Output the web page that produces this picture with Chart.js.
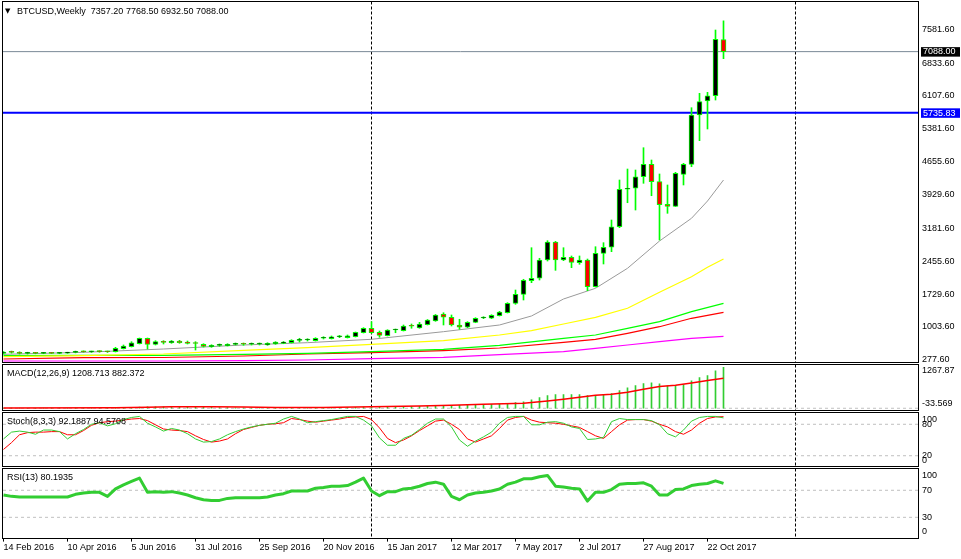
<!DOCTYPE html>
<html>
<head>
<meta charset="utf-8">
<script src="https://cdn.jsdelivr.net/npm/chart.js@4.4.1/dist/chart.umd.min.js"></script>
<style>
  html, body { margin: 0; padding: 0; background: #fff; }
  #wrap { position: relative; width: 961px; height: 559px; overflow: hidden; }
  canvas { position: absolute; left: 0; }
</style>
</head>
<body>
<div id="wrap">
  <canvas id="mainChart" width="961" height="364" style="top:0px"></canvas>
  <canvas id="macdChart" width="961" height="47" style="top:364px"></canvas>
  <canvas id="stochChart" width="961" height="56" style="top:411px"></canvas>
  <canvas id="rsiChart" width="961" height="92" style="top:467px"></canvas>
</div>
<script>
// weekly bars, index 0 = week of 14 Feb 2016
const tickBars = [0, 8, 16, 24, 32, 40, 48, 56, 64, 72, 80, 88];
const tickLabels = ['14 Feb 2016', '10 Apr 2016', '5 Jun 2016', '31 Jul 2016', '25 Sep 2016', '20 Nov 2016',
                    '15 Jan 2017', '12 Mar 2017', '7 May 2017', '2 Jul 2017', '27 Aug 2017', '22 Oct 2017'];
const separatorBars = [46, 99];
const priceTicks = [7581.6, 6833.6, 6107.6, 5381.6, 4655.6, 3929.6, 3181.6, 2455.6, 1729.6, 1003.6, 277.6];
const bidPrice = 7088.00;
const supportLevel = 5735.83;

const open = [
  418, 448, 440, 418, 430, 418, 428, 420, 426, 440,
  460, 455, 462, 458, 457, 523, 567, 633, 753, 620,
  671, 655, 693, 671, 649, 620, 567, 598, 589, 620,
  627, 622, 627, 605, 627, 642, 655, 708, 715, 700,
  753, 744, 788, 766, 788, 876, 974, 885, 810, 936,
  921, 1025, 980, 1053, 1135, 1290, 1217, 1047, 996, 1106,
  1201, 1195, 1252, 1318, 1526, 1725, 2026, 2079, 2483, 2881,
  2483, 2543, 2423, 2483, 1893, 2631, 2764, 3219, 4046, 4068,
  4324, 4598, 4214, 3714, 3670, 4377, 4598, 5688, 5997, 6114,
  7357.2
];
const high = [
  460, 470, 455, 445, 440, 440, 440, 435, 445, 470,
  475, 470, 478, 470, 554, 605, 678, 759, 759, 700,
  700, 704, 708, 693, 678, 633, 611, 627, 633, 649,
  649, 649, 649, 655, 678, 682, 722, 753, 744, 766,
  788, 804, 819, 826, 892, 987, 1120, 914, 943, 958,
  1047, 1069, 1106, 1168, 1279, 1318, 1268, 1173, 1120, 1208,
  1230, 1274, 1349, 1540, 1820, 2057, 2755, 2521, 2910, 2895,
  2755, 2572, 2572, 2505, 2777, 2866, 3367, 4251, 4494, 4472,
  4965, 4693, 4384, 4141, 4421, 4620, 5849, 6167, 6189, 7566,
  7768.5
];
const low = [
  402, 425, 405, 405, 410, 412, 415, 412, 420, 430,
  445, 440, 445, 440, 450, 516, 560, 627, 516, 605,
  627, 642, 642, 627, 494, 560, 554, 576, 583, 605,
  598, 605, 605, 598, 620, 633, 649, 671, 693, 693,
  737, 737, 766, 759, 782, 870, 863, 775, 804, 876,
  914, 974, 974, 1047, 1128, 1047, 1025, 952, 987, 1097,
  1186, 1186, 1246, 1312, 1504, 1599, 1982, 2041, 2461, 2255,
  2468, 2313, 2388, 1805, 1886, 2395, 2667, 3197, 3749, 3588,
  4178, 3904, 2925, 3515, 3665, 4141, 4545, 5120, 5378, 6019,
  6932.5
];
const close = [
  448, 440, 418, 430, 418, 428, 420, 426, 440, 460,
  455, 462, 458, 455, 532, 583, 655, 753, 620, 678,
  664, 693, 655, 642, 638, 576, 598, 605, 620, 627,
  622, 627, 631, 642, 671, 671, 708, 715, 720, 753,
  766, 788, 793, 810, 885, 974, 876, 819, 936, 941,
  1025, 1020, 1069, 1157, 1268, 1217, 1047, 996, 1106, 1195,
  1212, 1261, 1334, 1526, 1725, 2035, 2079, 2483, 2881, 2483,
  2543, 2432, 2483, 1893, 2631, 2764, 3219, 4046, 4059, 4324,
  4598, 4214, 3705, 3670, 4399, 4598, 5688, 5982, 6114, 7361,
  7088.0
];

// moving averages at these bars
const maBarsA = [0, 10, 20, 30, 38, 46, 55, 62, 66, 70, 74, 78, 82, 86, 88, 90];
const maGray = [399, 443, 516, 605, 656, 731, 899, 1047, 1246, 1621, 1858, 2300, 2903, 3405, 3787, 4251];
const maYellow = [346, 368, 406, 488, 545, 620, 700, 826, 921, 1069, 1217, 1416, 1769, 2114, 2322, 2505];
const maBarsB = [0, 10, 20, 30, 38, 46, 55, 62, 70, 74, 78, 82, 86, 90];
const maGreen = [368, 377, 377, 399, 421, 457, 510, 598, 753, 826, 974, 1120, 1341, 1526];
const maRed = [295, 324, 328, 362, 406, 435, 479, 538, 664, 731, 863, 1009, 1195, 1327];
const maMagenta = [251, 251, 251, 258, 273, 302, 333, 390, 457, 532, 605, 678, 753, 797];

const macdHist = [
  2, 3, 2, 1, 1, 2, 2, 3, 4, 5,
  6, 7, 7, 6, 10, 15, 22, 38, 40, 42,
  44, 45, 44, 42, 38, 32, 27, 22, 18, 15,
  13, 12, 11, 11, 12, 13, 15, 17, 19, 22,
  24, 26, 28, 30, 25, 32, 38, 38, 40, 42,
  46, 50, 56, 64, 74, 84, 88, 90, 96, 108,
  118, 118, 118, 147, 167, 187, 246, 315, 374, 403,
  403, 403, 403, 374, 383, 403, 433, 521, 600, 669,
  728, 747, 718, 659, 669, 698, 806, 905, 964, 1101,
  1208.713
];
const macdSignalBars = [0, 14, 18, 21, 26, 30, 34, 40, 44, 48, 52, 56, 60, 65, 68, 70, 72, 74, 76, 78, 80, 82, 84, 86, 88, 90];
const macdSignal = [10, 12, 30, 45, 48, 38, 25, 22, 35, 50, 65, 90, 120, 147, 216, 265, 324, 383, 413, 472, 560, 639, 678, 747, 816, 882.372];

const stochMain = [
  52, 65, 67, 65, 61, 69, 69, 66, 52, 62,
  70, 80, 83, 77, 81, 89, 93, 95, 82, 75,
  67, 72, 69, 62, 52, 46, 47, 52, 60, 66,
  71, 75, 78, 80, 82, 90, 95, 90, 83, 85,
  87, 89, 92, 95, 95, 88, 77, 54, 40, 40,
  53, 59, 70, 82, 90, 90, 75, 50, 38, 48,
  56, 65, 82, 93, 95, 95, 79, 79, 84, 85,
  82, 75, 72, 51, 52, 55, 85, 91, 89, 89,
  89, 87, 79, 62, 56, 69, 86, 93, 95, 95,
  92.1887
];
const stochSignal = [
  32, 45, 60, 64, 65, 65, 66, 66, 60, 60,
  68, 78, 83, 85, 86, 88, 90, 91, 87, 79,
  71, 69, 68, 66, 58, 51, 46, 48, 52, 62,
  70, 74, 78, 80, 81, 83, 91, 89, 86, 84,
  86, 88, 90, 93, 94, 95, 89, 73, 53, 45,
  50, 58, 68, 77, 86, 88, 80, 70, 52, 46,
  52, 58, 72, 88, 93, 95, 88, 84, 83, 82,
  80, 77, 74, 66, 58, 53, 66, 79, 88, 89,
  89, 86, 80, 75, 66, 61, 69, 82, 91, 94,
  94.5708
];
const rsi = [
  63, 61, 60, 60, 60, 60, 60, 60, 60, 64,
  66, 67, 67, 61, 72, 78, 83, 88, 67, 68,
  67, 68, 66, 63, 59, 56, 55, 55, 58, 59,
  59, 59, 59, 60, 63, 65, 69, 69, 69, 73,
  74, 76, 76, 77, 82, 88, 69, 62, 68, 68,
  72, 73, 76, 80, 82, 79, 61, 56, 63, 66,
  67, 69, 72, 79, 82, 87, 87, 90, 92, 76,
  75, 73, 72, 54, 67, 67, 71, 79, 80, 80,
  81, 76, 63, 63, 71, 72, 77, 79, 80, 84,
  80.1935
];

// chart setup
const X_MIN = -0.0625;
const X_MAX = 114.3125;
const FONT = "9px 'Liberation Sans', 'DejaVu Sans', sans-serif";
const GREEN = '#32cd32';

Chart.defaults.font.family = "'Liberation Sans', 'DejaVu Sans', sans-serif";
Chart.defaults.font.size = 9;
Chart.defaults.color = '#000';

const pts = (xs, ys) => xs.map((x, i) => ({ x: x, y: ys[i] }));
const flat = v => [{ x: X_MIN, y: v }, { x: X_MAX, y: v }];
const bars = arr => arr.map((v, i) => ({ x: i, y: v }));

function lineSet(data, color, width, extra) {
  return Object.assign({
    type: 'line', data: data, borderColor: color, borderWidth: width,
    pointRadius: 0, tension: 0, fill: false, order: 2
  }, extra || {});
}

function levelSet(v) {
  return lineSet(flat(v), '#c0c0c0', 1, { borderDash: [3, 3], order: 5 });
}

const hiddenX = { type: 'linear', min: X_MIN, max: X_MAX, offset: false, display: false };

// frame, period separators, panel caption and side labels
const panelDecor = {
  id: 'panelDecor',
  beforeDatasetsDraw(chart, args, o) {
    const ctx = chart.ctx;
    const xs = chart.scales.x;
    ctx.save();
    ctx.strokeStyle = '#000';
    ctx.lineWidth = 1;
    ctx.setLineDash([3, 2]);
    separatorBars.forEach(b => {
      const px = xs.getPixelForValue(b);
      ctx.beginPath();
      ctx.moveTo(px, o.top);
      ctx.lineTo(px, o.bottom);
      ctx.stroke();
    });
    ctx.restore();
  },
  afterDraw(chart, args, o) {
    const ctx = chart.ctx;
    const area = chart.chartArea;
    const ys = chart.scales.y;
    ctx.save();
    ctx.strokeStyle = '#000';
    ctx.lineWidth = 1;
    ctx.strokeRect(2.5, o.top, 916, o.bottom - o.top);
    ctx.font = FONT;
    ctx.fillStyle = '#000';
    ctx.textBaseline = 'middle';
    if (o.title) ctx.fillText(o.title, 7, o.titleY);
    (o.side || []).forEach(s => {
      let py = ys.getPixelForValue(s.v);
      py = Math.min(Math.max(py, area.top + 5.5), area.bottom - 6);
      ctx.fillText(s.text, 922, py);
    });
    ctx.restore();
  }
};

const mainDecor = {
  id: 'mainDecor',
  afterDraw(chart) {
    const ctx = chart.ctx;
    const ys = chart.scales.y;
    ctx.save();
    ctx.textBaseline = 'middle';
    ctx.fillStyle = '#000';
    ctx.font = "7px 'DejaVu Sans', sans-serif";
    ctx.fillText('\u25BC', 5, 11.5);
    ctx.font = FONT;
    ctx.fillText('BTCUSD,Weekly  7357.20 7768.50 6932.50 7088.00', 17, 11.7);
    [[bidPrice, '#000000'], [supportLevel, '#0000ff']].forEach(([v, c]) => {
      const py = ys.getPixelForValue(v);
      ctx.fillStyle = c;
      ctx.fillRect(921, py - 4.5, 39, 9.5);
      ctx.fillStyle = '#fff';
      ctx.fillText(v.toFixed(2), 923, py + 0.3);
    });
    ctx.restore();
  }
};

const common = {
  responsive: false,
  devicePixelRatio: 1,
  animation: false,
  events: [],
  plugins: { legend: { display: false }, tooltip: { enabled: false } }
};

// main price panel
new Chart(document.getElementById('mainChart'), {
  type: 'bar',
  data: {
    datasets: [
      {
        data: close.map((c, i) => ({ x: i, y: [open[i], c] })),
        backgroundColor: close.map((c, i) => c >= open[i] ? '#000000' : '#ff0000'),
        borderColor: '#00ff00', borderWidth: 1, borderSkipped: false,
        barThickness: 5, maxBarThickness: 5, minBarLength: 1, grouped: false, order: 0
      },
      {
        data: close.map((c, i) => ({ x: i, y: [low[i], high[i]] })),
        backgroundColor: '#00ff00', borderWidth: 0,
        barThickness: 1, maxBarThickness: 1, grouped: false, order: 1
      },
      lineSet(pts(maBarsA, maGray), '#9a9a9a', 1),
      lineSet(pts(maBarsA, maYellow), '#ffff00', 1.2),
      lineSet(pts(maBarsB, maGreen), '#00ff00', 1.2),
      lineSet(pts(maBarsB, maRed), '#ff0000', 1.2),
      lineSet(pts(maBarsB, maMagenta), '#ff00ff', 1.2),
      lineSet(flat(bidPrice), '#7a8896', 1, { order: 4 }),
      lineSet(flat(supportLevel), '#0000ff', 2, { order: 4 })
    ]
  },
  options: Object.assign({}, common, {
    layout: { padding: { left: 3, right: 0, top: 2, bottom: 2 } },
    scales: {
      x: hiddenX,
      y: {
        position: 'right', min: 229, max: 8185,
        grid: { display: false, drawTicks: false },
        border: { display: false },
        afterBuildTicks: s => { s.ticks = priceTicks.map(v => ({ value: v })); },
        afterFit: s => { s.width = 43; s.paddingTop = 0; s.paddingBottom = 0; },
        ticks: { autoSkip: false, padding: 4, color: '#000', callback: v => Number(v).toFixed(2) }
      }
    },
    plugins: Object.assign({}, common.plugins, {
      panelDecor: { top: 1.5, bottom: 362.5 }
    })
  }),
  plugins: [panelDecor, mainDecor]
});

// MACD panel
new Chart(document.getElementById('macdChart'), {
  type: 'bar',
  data: {
    datasets: [
      lineSet(pts(macdSignalBars, macdSignal), '#ff0000', 1.5, { order: 0 }),
      {
        data: bars(macdHist), backgroundColor: GREEN, borderWidth: 0,
        barThickness: 1, maxBarThickness: 1, grouped: false, order: 1
      },
      levelSet(0)
    ]
  },
  options: Object.assign({}, common, {
    layout: { padding: { left: 3, right: 43, top: 1.3, bottom: 1.6 } },
    scales: {
      x: hiddenX,
      y: { display: false, min: -33.569, max: 1267.87 }
    },
    plugins: Object.assign({}, common.plugins, {
      panelDecor: {
        top: 0.5, bottom: 46.5, title: 'MACD(12,26,9) 1208.713 882.372', titleY: 10,
        side: [{ v: 1267.87, text: '1267.87' }, { v: -33.569, text: '-33.569' }]
      }
    })
  }),
  plugins: [panelDecor]
});

// Stochastic panel
new Chart(document.getElementById('stochChart'), {
  type: 'line',
  data: {
    datasets: [
      lineSet(bars(stochSignal), '#ff0000', 1, { order: 1 }),
      lineSet(bars(stochMain), GREEN, 1, { order: 0 }),
      levelSet(80),
      levelSet(20)
    ]
  },
  options: Object.assign({}, common, {
    layout: { padding: { left: 3, right: 43, top: 2.8, bottom: 0.8 } },
    scales: {
      x: hiddenX,
      y: { display: false, min: 0, max: 100 }
    },
    plugins: Object.assign({}, common.plugins, {
      panelDecor: {
        top: 1.5, bottom: 55.5, title: 'Stoch(8,3,3) 92.1887 94.5708', titleY: 10.7,
        side: [{ v: 100, text: '100' }, { v: 80, text: '80' }, { v: 20, text: '20' }, { v: 0, text: '0' }]
      }
    })
  }),
  plugins: [panelDecor]
});

// RSI panel with the time axis
new Chart(document.getElementById('rsiChart'), {
  type: 'line',
  data: {
    datasets: [
      lineSet(bars(rsi), GREEN, 3, { order: 0, borderJoinStyle: 'round' }),
      levelSet(70),
      levelSet(30)
    ]
  },
  options: Object.assign({}, common, {
    layout: { padding: { left: 3, right: 43, top: 3, bottom: 1.4 } },
    scales: {
      x: {
        type: 'linear', min: X_MIN, max: X_MAX, offset: false, position: 'bottom',
        afterBuildTicks: s => { s.ticks = tickBars.map(v => ({ value: v })); },
        afterFit: s => { s.height = 20; s.paddingLeft = 0; s.paddingRight = 0; },
        grid: { drawOnChartArea: false, drawTicks: true, tickLength: 4, color: '#000' },
        border: { display: false },
        ticks: {
          autoSkip: false, maxRotation: 0, minRotation: 0, align: 'start', padding: 1, color: '#000',
          callback: (v, i) => tickLabels[i]
        }
      },
      y: { display: false, min: 0, max: 100 }
    },
    plugins: Object.assign({}, common.plugins, {
      panelDecor: {
        top: 1.5, bottom: 71.5, title: 'RSI(13) 80.1935', titleY: 11,
        side: [{ v: 100, text: '100' }, { v: 70, text: '70' }, { v: 30, text: '30' }, { v: 0, text: '0' }]
      }
    })
  }),
  plugins: [panelDecor]
});
</script>
</body>
</html>
